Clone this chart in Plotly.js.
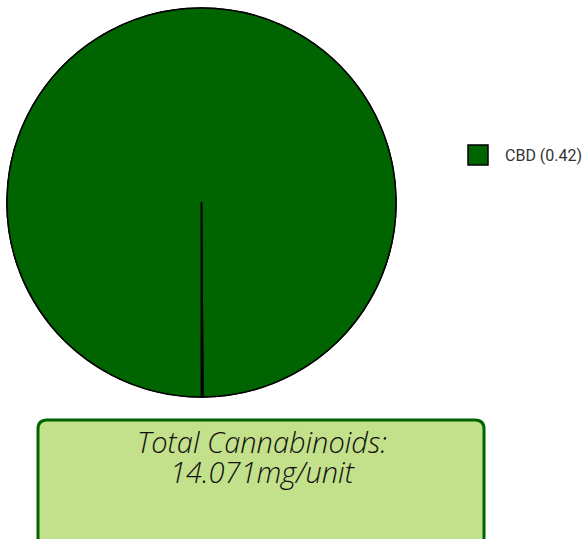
<!DOCTYPE html>
<html><head><meta charset="utf-8">
<script src="https://cdn.plot.ly/plotly-3.0.1.min.js"></script>
<style>html,body{margin:0;padding:0;background:#fff;}</style>
</head><body>
<div id="chart" style="width:585px;height:539px;"></div>
<script>
var labels = ['CBD', 'Other'];
var values = [0.42, 0.0005];
var legendLabels = ['CBD (0.42)'];
var colors = ['#006400', '#ffffff'];
var totalLines = ['Total Cannabinoids:', '14.071mg/unit'];

var W = 585, H = 539;
var dom = {x: [7 / W, 396 / W], y: [1 - 397 / H, 1 - 8 / H]};

var traces = [
  {
    type: 'pie', labels: [legendLabels[0]], values: [values[0]],
    marker: {colors: [colors[0]], line: {color: '#000', width: 1.5}},
    textinfo: 'none', hoverinfo: 'skip', sort: false, domain: dom, showlegend: true
  },
  {
    type: 'pie', labels: labels, values: values,
    marker: {colors: colors, line: {color: '#000', width: 1.5}},
    textinfo: 'none', hoverinfo: 'skip', sort: false, direction: 'clockwise',
    rotation: 180, domain: dom, showlegend: false
  }
];

function px(x) { return x / W; }
function py(y) { return 1 - y / H; }
var x0 = 38, x1 = 484, y0 = 420, y1 = 560, r = 9;
var path = 'M' + px(x0 + r) + ',' + py(y0) +
  ' L' + px(x1 - r) + ',' + py(y0) +
  ' Q' + px(x1) + ',' + py(y0) + ' ' + px(x1) + ',' + py(y0 + r) +
  ' L' + px(x1) + ',' + py(y1) +
  ' L' + px(x0) + ',' + py(y1) +
  ' L' + px(x0) + ',' + py(y0 + r) +
  ' Q' + px(x0) + ',' + py(y0) + ' ' + px(x0 + r) + ',' + py(y0) + ' Z';

var annFont = {family: 'Open Sans', size: 29, color: '#111', weight: 300, style: 'italic'};

var layout = {
  width: W, height: H,
  margin: {l: 0, r: 0, t: 0, b: 0, autoexpand: false},
  paper_bgcolor: '#fff',
  showlegend: true,
  legend: {
    x: 465 / W, y: 1 - 138 / H, xanchor: 'left', yanchor: 'top',
    font: {family: 'Roboto', size: 16, color: '#333'},
    bgcolor: 'rgba(0,0,0,0)'
  },
  shapes: [{
    type: 'path', xref: 'paper', yref: 'paper', path: path,
    fillcolor: '#c3e08a', line: {color: '#006400', width: 3}
  }],
  annotations: totalLines.map(function (t, i) {
    return {
      xref: 'paper', yref: 'paper', x: 262 / W, y: 1 - (441 + 30 * i) / H,
      xanchor: 'center', yanchor: 'middle', showarrow: false,
      text: t, font: annFont
    };
  })
};

Plotly.newPlot('chart', traces, layout, {displayModeBar: false, staticPlot: true}).then(function () {
  document.querySelectorAll('.legendpoints path').forEach(function (p) {
    p.setAttribute('d', 'M3,10H-17V-10H3Z');
    p.style.strokeWidth = '1.5px';
  });
});
</script>
</body></html>
